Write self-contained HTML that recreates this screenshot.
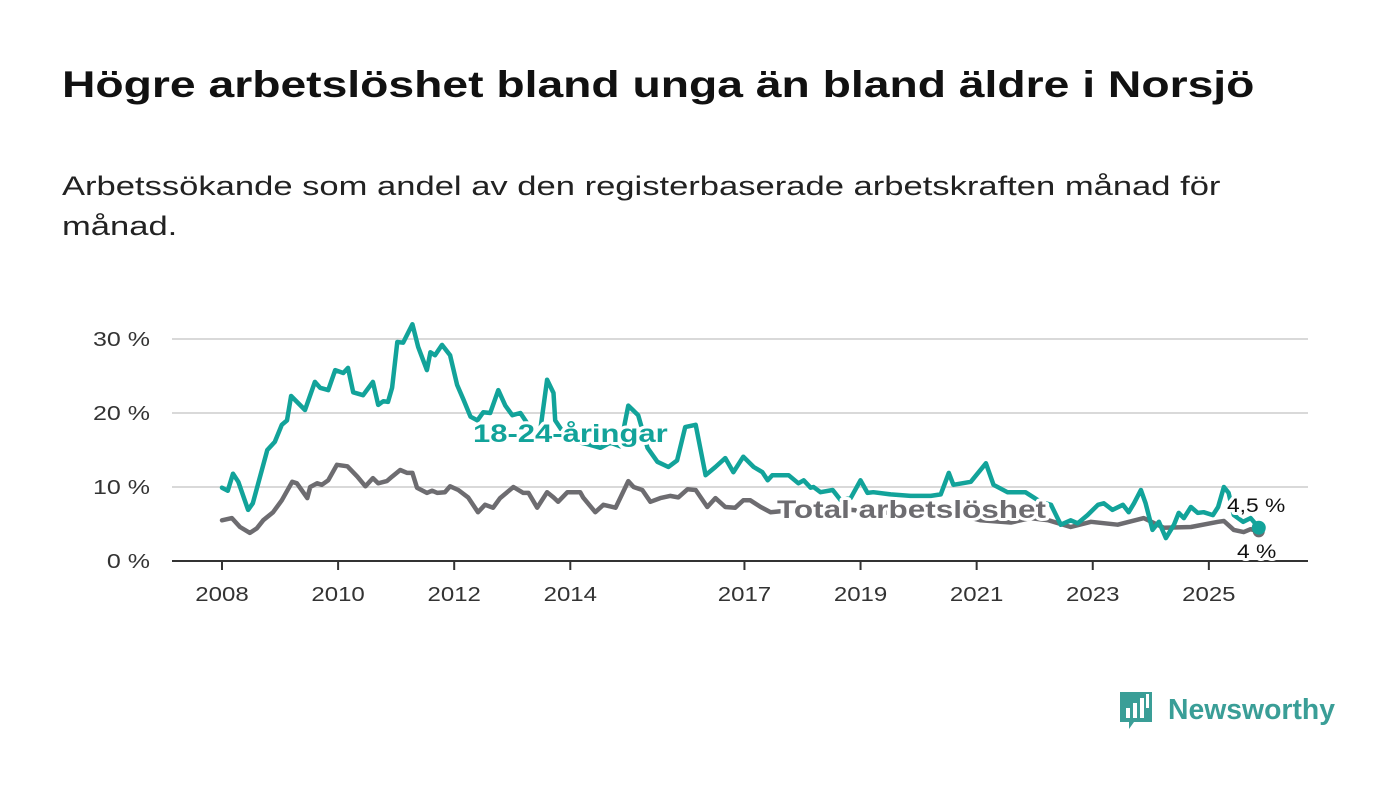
<!DOCTYPE html>
<html><head><meta charset="utf-8">
<style>
body{margin:0;background:#fff;width:1400px;height:794px;overflow:hidden;font-family:"Liberation Sans",sans-serif;}
h1{position:absolute;left:62px;top:64px;margin:0;font-size:37px;font-weight:bold;color:#111;white-space:nowrap;transform:scaleX(1.25);transform-origin:0 0}
.sub{position:absolute;left:62px;top:166px;margin:0;font-size:27px;line-height:40px;color:#222;white-space:nowrap;transform:scaleX(1.28);transform-origin:0 0}
svg{position:absolute;left:0;top:0}
</style></head><body>
<h1>Högre arbetslöshet bland unga än bland äldre i Norsjö</h1>
<p class="sub">Arbetssökande som andel av den registerbaserade arbetskraften månad för<br>månad.</p>
<svg id="chart" width="1400" height="794"></svg>
<script>
const yTicks=[0,10,20,30];
const yTickLabels=["0 %","10 %","20 %","30 %"];
const xTicks=[2008,2010,2012,2014,2017,2019,2021,2023,2025];
const youthDates=[2008.00,2008.10,2008.19,2008.28,2008.45,2008.53,2008.78,2008.91,2009.03,2009.12,2009.19,2009.43,2009.60,2009.69,2009.83,2009.95,2010.09,2010.17,2010.26,2010.43,2010.60,2010.69,2010.78,2010.86,2010.93,2011.02,2011.12,2011.28,2011.38,2011.53,2011.59,2011.67,2011.79,2011.93,2012.05,2012.16,2012.28,2012.40,2012.50,2012.62,2012.76,2012.88,2013.00,2013.14,2013.31,2013.48,2013.60,2013.71,2013.74,2013.91,2014.17,2014.34,2014.52,2014.69,2014.86,2015.00,2015.17,2015.33,2015.50,2015.69,2015.84,2015.98,2016.16,2016.33,2016.50,2016.67,2016.81,2016.98,2017.16,2017.31,2017.40,2017.48,2017.76,2017.93,2018.02,2018.14,2018.19,2018.31,2018.52,2018.66,2018.83,2019.00,2019.12,2019.22,2019.52,2019.86,2020.21,2020.38,2020.52,2020.60,2020.90,2021.16,2021.29,2021.53,2021.84,2022.10,2022.28,2022.45,2022.62,2022.74,2022.91,2023.09,2023.19,2023.34,2023.52,2023.62,2023.71,2023.83,2023.91,2024.03,2024.14,2024.26,2024.40,2024.48,2024.57,2024.69,2024.81,2024.91,2025.07,2025.16,2025.26,2025.34,2025.43,2025.59,2025.72,2025.86];
const youthValues=[9.9,9.5,11.8,10.7,6.9,7.8,15,16.1,18.4,19,22.3,20.4,24.2,23.4,23.1,25.8,25.4,26.1,22.8,22.4,24.2,21.1,21.6,21.5,23.4,29.6,29.5,32,28.9,25.8,28.2,27.8,29.2,27.8,23.8,21.8,19.5,19,20.1,20,23.1,21,19.7,20,18,17.5,24.5,22.7,19,17,16,15.7,15.3,16,15.5,21,19.7,15.3,13.4,12.7,13.6,18.1,18.4,11.6,12.7,13.9,12,14.1,12.7,12,10.9,11.6,11.6,10.5,10.9,9.9,10,9.3,9.6,8.2,8.5,10.9,9.2,9.3,9,8.8,8.8,9,11.9,10.3,10.7,13.2,10.3,9.3,9.3,8,7.6,4.9,5.5,5.1,6.2,7.6,7.8,6.9,7.6,6.6,7.8,9.6,7.8,4.2,5.3,3.1,4.9,6.5,5.8,7.3,6.5,6.6,6.2,7.3,10,9.2,6.2,5.3,5.8,4.5];
const totalDates=[2008.00,2008.17,2008.31,2008.48,2008.60,2008.71,2008.88,2009.03,2009.21,2009.29,2009.47,2009.52,2009.64,2009.72,2009.83,2009.98,2010.16,2010.33,2010.47,2010.60,2010.69,2010.84,2010.93,2011.07,2011.19,2011.28,2011.36,2011.53,2011.62,2011.71,2011.84,2011.93,2012.07,2012.24,2012.41,2012.53,2012.67,2012.79,2013.02,2013.19,2013.28,2013.43,2013.60,2013.71,2013.79,2013.95,2014.17,2014.22,2014.43,2014.57,2014.78,2015.00,2015.09,2015.24,2015.38,2015.55,2015.72,2015.86,2016.02,2016.16,2016.36,2016.50,2016.67,2016.84,2016.98,2017.10,2017.28,2017.45,2017.97,2018.48,2019.00,2019.52,2020.03,2020.55,2021.07,2021.59,2021.93,2022.24,2022.62,2022.97,2023.43,2023.88,2024.22,2024.69,2025.16,2025.26,2025.43,2025.60,2025.72,2025.86];
const totalValues=[5.5,5.8,4.6,3.8,4.4,5.5,6.6,8.2,10.7,10.5,8.5,10,10.5,10.3,10.9,13,12.8,11.4,10.1,11.2,10.5,10.8,11.4,12.3,11.9,11.9,9.9,9.2,9.5,9.2,9.3,10.1,9.6,8.6,6.6,7.6,7.2,8.5,10,9.2,9.2,7.2,9.3,8.6,8,9.3,9.3,8.6,6.6,7.6,7.2,10.8,10,9.6,8,8.5,8.8,8.6,9.7,9.6,7.3,8.5,7.3,7.2,8.2,8.2,7.3,6.6,7,7.2,6.8,6.5,7,6.5,5.5,5.2,5.8,5.5,4.6,5.3,4.9,5.8,4.5,4.6,5.3,5.4,4.2,3.9,4.3,4.0];

const NS="http://www.w3.org/2000/svg";
const svg=document.getElementById('chart');
const X=d=>222+(d-2008)*58.05;
const Y=v=>561-v*7.4;
function mk(tag,attrs,parent){const e=document.createElementNS(NS,tag);for(const k in attrs)e.setAttribute(k,attrs[k]);(parent||svg).appendChild(e);return e;}
function widen(t,f){const w=t.getComputedTextLength();t.setAttribute('textLength',(w*f).toFixed(1));t.setAttribute('lengthAdjust','spacingAndGlyphs');}

yTicks.forEach((t,i)=>{
  if(t>0){const g=mk('line',{x1:172,x2:1308,y1:Y(t),y2:Y(t),stroke:'#d9d9d9','stroke-width':2});
  
  }
  const l=mk('text',{x:150,y:Y(t)+7,'text-anchor':'end','font-size':20,fill:'#333'});
  l.textContent=yTickLabels[i];
  
  
  widen(l,1.25);
});
const ax=mk('line',{x1:172,x2:1308,y1:561,y2:561,stroke:'#333','stroke-width':2});


xTicks.forEach(t=>{
  const tk=mk('line',{x1:X(t),x2:X(t),y1:561,y2:570,stroke:'#333','stroke-width':2});
  
  
  const l=mk('text',{x:X(t),y:601,'text-anchor':'middle','font-size':20,fill:'#333'});
  l.textContent=t;
  
  
  widen(l,1.2);
});
function line(dates,vals,color,name){
  const p=mk('path',{d:dates.map((d,i)=>(i?'L':'M')+X(d).toFixed(1)+','+Y(vals[i]).toFixed(1)).join(''),fill:'none',stroke:color,'stroke-width':4.5,'stroke-linejoin':'round','stroke-linecap':'round'});
  
  
}
line(totalDates,totalValues,'#6d6c70','total-line');
line(youthDates,youthValues,'#12a39a','youth-line');
const d2=mk('circle',{cx:X(totalDates[totalDates.length-1]),cy:Y(totalValues[totalValues.length-1]),r:6,fill:'#6d6c70'});


const d1=mk('circle',{cx:X(youthDates[youthDates.length-1]),cy:Y(youthValues[youthValues.length-1]),r:7,fill:'#12a39a'});


function label(x,y,txt,color,size,weight,name,f){
  const t=mk('text',{x:x,y:y,'font-size':size,'font-weight':weight,fill:color,stroke:'#fff','stroke-width':6,'paint-order':'stroke','stroke-linejoin':'round'});
  t.textContent=txt;
  
  
  widen(t,f);
}
label(473,442,'18-24-åringar','#12a39a',25,'bold','youth-series-label',1.24);
label(777,518,'Total arbetslöshet','#6d6c70',25,'bold','total-series-label',1.26);
label(1227,512,'4,5 %','#111',19,'normal','youth-end-value',1.2);
label(1237,558,'4 %','#111',19,'normal','total-end-value',1.2);
</script>
<svg width="240" height="60" style="left:1115px;top:688px">
<path d="M5 4 h32 v30 h-18 l-5 7 v-7 h-9z" fill="#3a9e97"/>
<rect x="11" y="20" width="4" height="10" fill="#fff"/><rect x="18" y="15" width="4" height="15" fill="#fff"/><rect x="25" y="10" width="4" height="20" fill="#fff"/><rect x="31" y="6" width="3" height="14" fill="#fff"/>
<text x="53" y="31" font-size="29" font-weight="bold" fill="#3a9e97" font-family="Liberation Sans, sans-serif" textLength="167" lengthAdjust="spacingAndGlyphs">Newsworthy</text>
</svg>
</body></html>
